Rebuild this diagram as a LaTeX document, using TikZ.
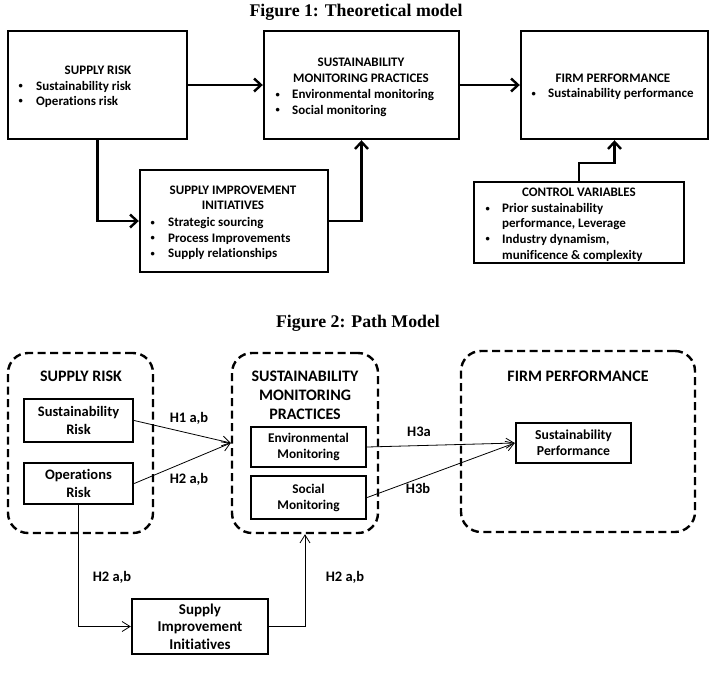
\documentclass[tikz,border=0pt]{standalone}
\usepackage{fontspec}
\setmainfont[Ligatures=NoCommon]{Carlito}
\newfontfamily\titlefont{Liberation Serif}
\usetikzlibrary{arrows.meta}
\newcommand{\smallbul}{\raisebox{1.3pt}{\fontsize{8.5}{8.5}\selectfont •}}
\begin{document}
\begin{tikzpicture}[x=1pt,y=-1pt,
  box/.style={draw, line width=2.4pt, inner sep=0pt},
  grp/.style={draw, line width=2.4pt, dash pattern=on 8pt off 4.5pt, rounded corners=20pt, inner sep=0pt},
  ibox/.style={draw, line width=2.4pt, inner sep=0pt, align=center},
  thk/.style={line width=2.4pt, -{Straight Barb[length=7pt,width=13pt]}},
  thn/.style={line width=0.8pt, -{Straight Barb[length=8pt,width=10pt]}},
  ftitle/.style={inner sep=0pt, font=\titlefont\bfseries\fontsize{17.8}{20}\selectfont},
  fa/.style={inner sep=0pt, font=\bfseries\fontsize{13}{15.5}\selectfont},
  fb/.style={inner sep=0pt, anchor=base west, font=\bfseries\fontsize{13}{15.5}\selectfont},
  fg/.style={inner sep=0pt, align=center, font=\bfseries\fontsize{16}{19}\selectfont},
  hl/.style={inner sep=0pt, font=\bfseries\fontsize{14.5}{16}\selectfont}
]
\useasboundingbox (0,0) rectangle (712,689);

% ---------- Figure 1 ----------
\node[ftitle] (t1) at (356,12) {Figure 1: Theoretical model};

\node[box, minimum width=179pt, minimum height=108pt] (sr) at (97.5,85) {};
\node[box, minimum width=195pt, minimum height=108pt] (smp) at (361.5,85) {};
\node[box, minimum width=187pt, minimum height=108pt] (fp) at (614.5,85) {};
\node[box, minimum width=188pt, minimum height=102pt] (sii) at (234,221) {};
\node[box, minimum width=210pt, minimum height=81pt] (cv) at (579,222.5) {};

% supply risk text
\node[fa] (srt) at (98,70) {SUPPLY RISK};
\node[fb] (srb1) at (18.5,90) {\smallbul};
\node[fb] (srl1) at (36,90) {Sustainability risk};
\node[fb] (srb2) at (18.5,105) {\smallbul};
\node[fb] (srl2) at (36,105) {Operations risk};

% smp text
\node[fa] (smpt1) at (361,62) {SUSTAINABILITY};
\node[fa] (smpt2) at (361,78) {MONITORING PRACTICES};
\node[fb] (smpb1) at (275.5,98.5) {\smallbul};
\node[fb] (smpl1) at (292,98.5) {Environmental monitoring};
\node[fb] (smpb2) at (275.5,114) {\smallbul};
\node[fb] (smpl2) at (292,114) {Social monitoring};

% fp text
\node[fa] (fpt) at (613,78) {FIRM PERFORMANCE};
\node[fb] (fpb1) at (531.5,97.5) {\smallbul};
\node[fb] (fpl1) at (548,97.5) {Sustainability performance};

% sii text
\node[fa] (siit1) at (233,190) {SUPPLY IMPROVEMENT};
\node[fa] (siit2) at (233,205) {INITIATIVES};
\node[fb] (siib1) at (150.5,226.5) {\smallbul};
\node[fb] (siil1) at (168,226.5) {Strategic sourcing};
\node[fb] (siib2) at (150.5,242) {\smallbul};
\node[fb] (siil2) at (168,242) {Process Improvements};
\node[fb] (siib3) at (150.5,257.5) {\smallbul};
\node[fb] (siil3) at (168,257.5) {Supply relationships};

% control variables text
\node[fa] (cvt) at (579,192) {CONTROL VARIABLES};
\node[fb] (cvb1) at (485.5,212.5) {\smallbul};
\node[fb] (cvl1) at (502,212.5) {Prior sustainability};
\node[fb] (cvl2) at (502,227.5) {performance, Leverage};
\node[fb] (cvb2) at (485.5,243) {\smallbul};
\node[fb] (cvl3) at (502,243) {Industry dynamism,};
\node[fb] (cvl4) at (502,259) {munificence \& complexity};

% arrows fig 1
\draw[thk] (sr.east) -- (smp.west);
\draw[thk] (smp.east) -- (fp.west);
\draw[thk] (sr.south) |- (sii.west);
\draw[thk] (sii.east) -| (smp.south);
\coordinate (cvk) at (579,163);
\draw[thk] (cv.north) -- (cvk) -| (fp.south);

% ---------- Figure 2 ----------
\node[ftitle] (t2) at (358,323) {Figure 2: Path Model};

\node[grp, minimum width=145pt, minimum height=180pt] (gsr) at (80.5,443) {};
\node[grp, minimum width=146pt, minimum height=180pt] (gsmp) at (305,443) {};
\node[grp, minimum width=234pt, minimum height=181pt] (gfp) at (578,441.5) {};

\node[fg] (gsrt) at (81,376) {SUPPLY RISK};
\node[fg] (gsmpt) at (305,395) {SUSTAINABILITY\\MONITORING\\PRACTICES};
\node[fg] (gfpt) at (578,376) {FIRM PERFORMANCE};

\node[ibox, minimum width=109pt, minimum height=43pt, font=\bfseries\fontsize{14.5}{17.5}\selectfont] (srisk) at (78.5,420.5) {Sustainability\\Risk};
\node[ibox, minimum width=109pt, minimum height=41pt, font=\bfseries\fontsize{14.5}{17.5}\selectfont] (orisk) at (78.5,483.5) {Operations\\Risk};
\node[ibox, minimum width=115pt, minimum height=40pt, font=\bfseries\fontsize{13.3}{16}\selectfont] (env) at (308.5,447) {Environmental\\Monitoring};
\node[ibox, minimum width=115pt, minimum height=43pt, font=\bfseries\fontsize{13.3}{16}\selectfont] (soc) at (308.5,497.5) {Social\\Monitoring};
\node[ibox, minimum width=115pt, minimum height=40pt, font=\bfseries\fontsize{13.7}{16}\selectfont] (sp) at (573.5,443) {Sustainability\\Performance};
\node[ibox, minimum width=136pt, minimum height=55pt, font=\bfseries\fontsize{15}{17.5}\selectfont] (sii2) at (200,626.5) {Supply\\Improvement\\Initiatives};

\draw[thn] (srisk.east) -- (gsmp.west);
\draw[thn] (orisk.east) -- (gsmp.west);
\draw[thn] (env.east) -- (sp.west);
\draw[thn] (soc.east) -- (sp.west);
\draw[thn] (orisk.south) |- (sii2.west);
\draw[thn] (sii2.east) -| (gsmp.south);

\node[hl] (h1) at (189,418) {H1 a,b};
\node[hl] (h2) at (189,479) {H2 a,b};
\node[hl] (h3a) at (419,432) {H3a};
\node[hl] (h3b) at (418,488) {H3b};
\node[hl] (h2l) at (112,577) {H2 a,b};
\node[hl] (h2r) at (345,577) {H2 a,b};
\end{tikzpicture}
\end{document}
